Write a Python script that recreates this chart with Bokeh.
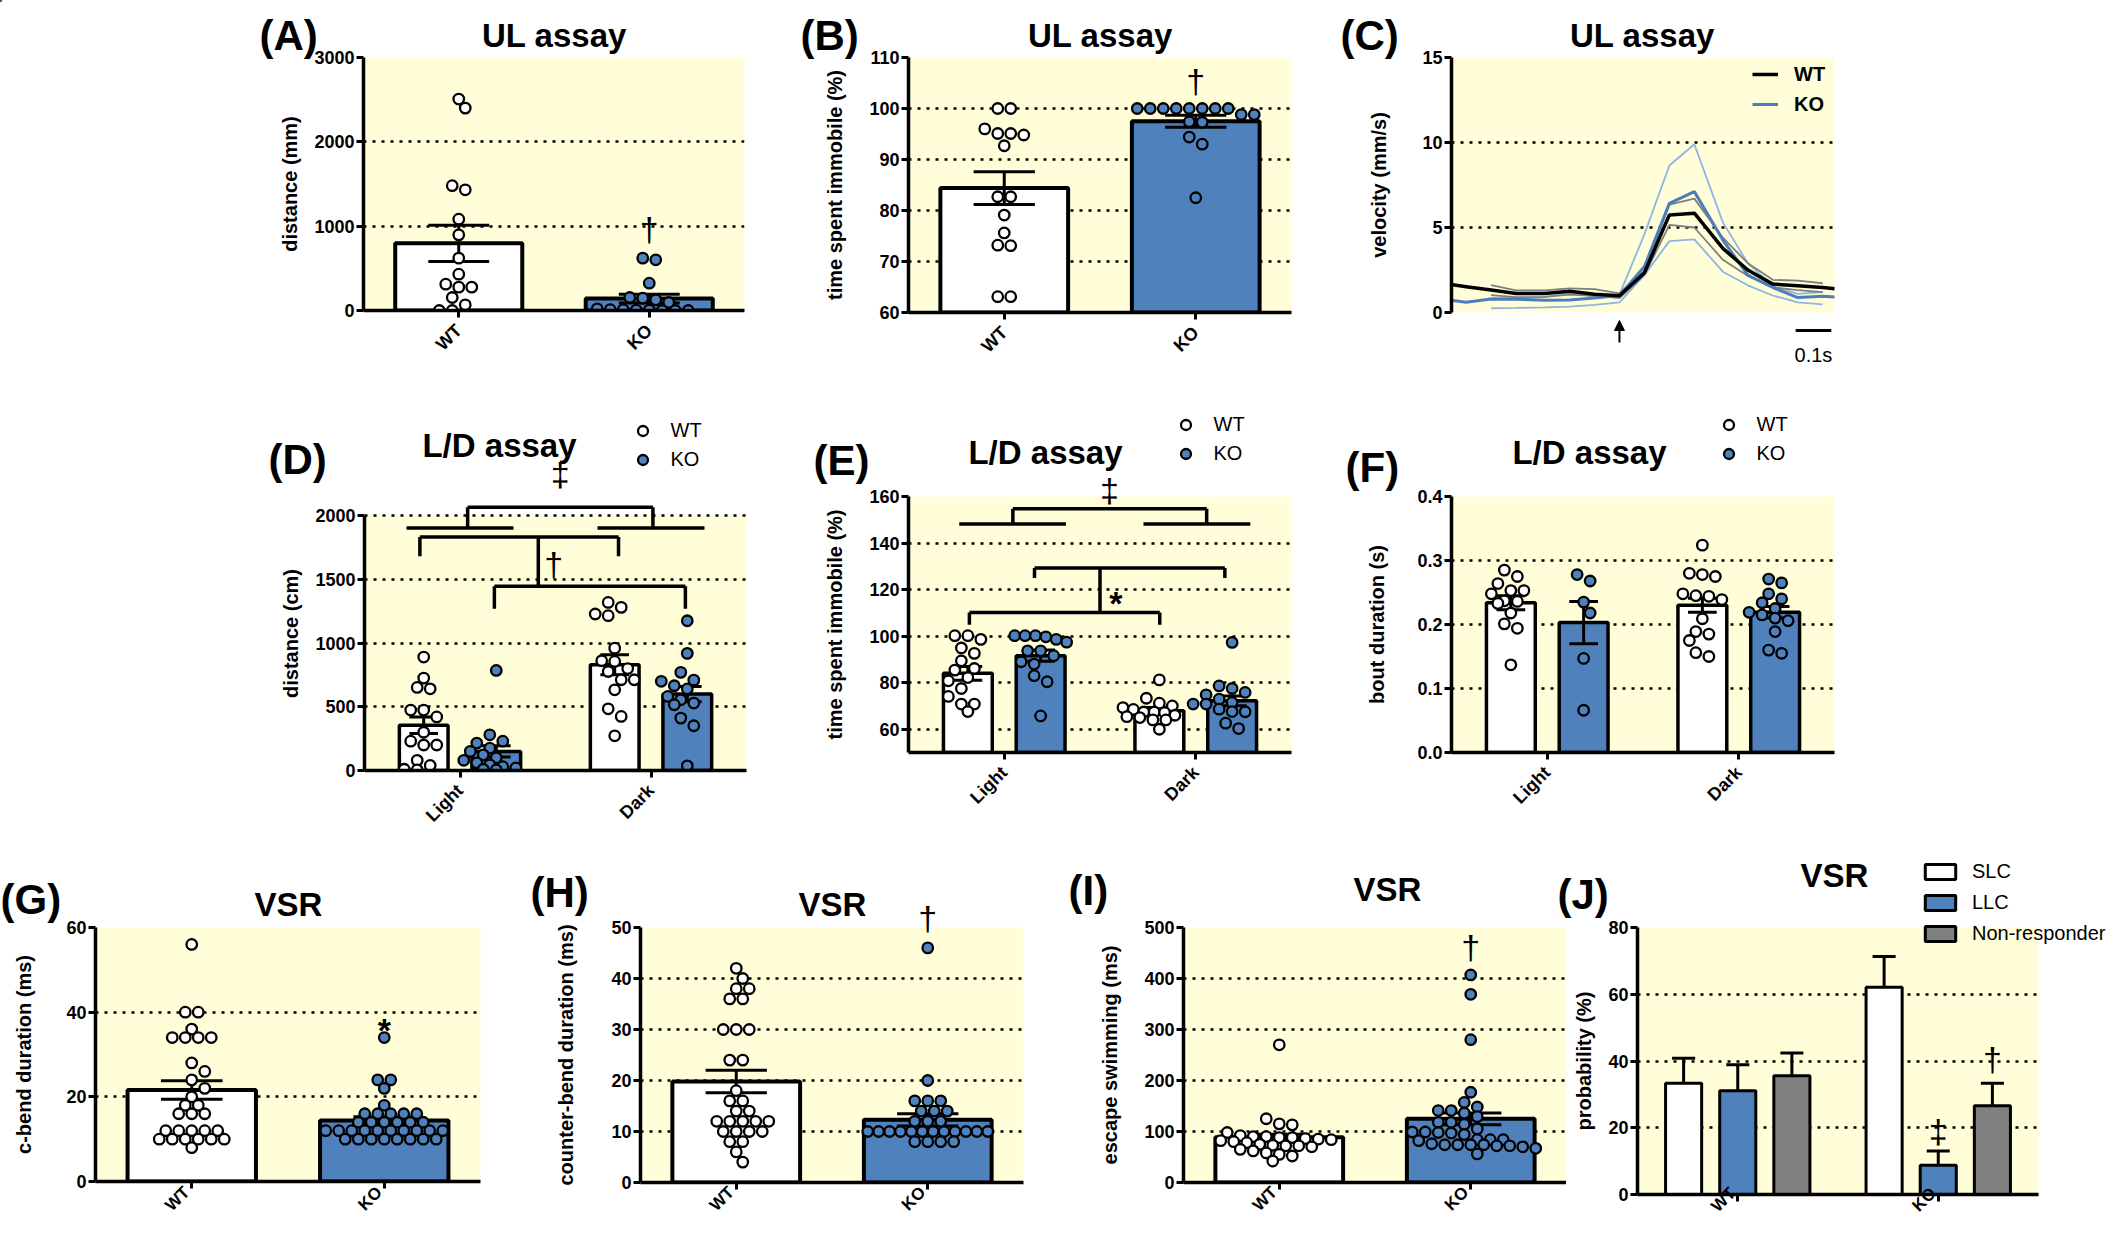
import math
from bokeh.plotting import figure
from bokeh.layouts import row, column
from bokeh.models import (Range1d, FixedTicker, Label, Legend, LegendItem, GridBox,
                          BoxAnnotation, Arrow, NormalHead, PrintfTickFormatter)
from bokeh.embed import file_html
from bokeh.resources import INLINE

# ============================ DATA ============================
genotypes = ["WT", "KO"]
phases = ["Light", "Dark"]

# (A) UL assay - distance (mm)
A_wt = [2507, 2400, 1480, 1431, 1083, 897, 621, 431, 312, 277, 277, 154, 67, 0, 0]
A_ko = [621, 601, 324, 154, 146, 126, 95, 20, 10, 10, 5, 5, 0, 0, 0]
A_mean = [796, 141]
A_sem = [215, 52]

# (B) UL assay - time spent immobile (%)
B_wt = [100, 100, 96.0, 95.1, 95.1, 94.8, 92.7, 82.7, 82.7, 79.1, 75.6, 73.2, 73.1, 63.1, 63.1]
B_ko = [100, 100, 100, 100, 100, 100, 100, 100, 98.8, 98.8, 97.4, 97.3, 94.4, 93.0, 82.5]
B_mean = [84.4, 97.5]
B_sem = [3.2, 1.2]

# (C) UL assay - velocity (mm/s), stimulus at t = 0 s
C_t = [-0.50, -0.43, -0.36, -0.29, -0.21, -0.14, -0.07, 0.00, 0.07, 0.14, 0.21,
       0.29, 0.36, 0.43, 0.50, 0.57, 0.64]
C_wt_mean = [1.72, 1.52, 1.32, 1.12, 1.12, 1.25, 1.08, 0.98, 2.34, 5.74, 5.84,
             3.77, 2.50, 1.67, 1.57, 1.47, 1.33]
C_ko_mean = [0.80, 0.60, 0.80, 0.78, 0.72, 0.74, 0.85, 1.00, 2.70, 6.42, 7.11,
             4.26, 2.20, 1.47, 0.88, 0.96, 0.86]
C_t_sem = [-0.36, -0.29, -0.21, -0.14, -0.07, 0.00, 0.07, 0.14, 0.21, 0.29, 0.36,
           0.43, 0.50, 0.57]
C_wt_hi = [1.61, 1.30, 1.30, 1.42, 1.38, 1.12, 2.45, 6.35, 6.70, 4.40, 2.90, 1.92, 1.88, 1.72]
C_wt_lo = [1.02, 0.90, 0.92, 1.05, 0.98, 0.85, 2.20, 5.15, 5.00, 3.10, 2.15, 1.48, 1.32, 1.20]
C_ko_hi = [0.85, 0.85, 0.90, 1.15, 0.95, 1.05, 4.60, 8.65, 9.90, 5.30, 2.90, 1.55, 1.10, 1.20]
C_ko_lo = [0.25, 0.27, 0.30, 0.35, 0.45, 0.60, 2.20, 4.20, 4.30, 2.40, 1.60, 1.00, 0.60, 0.48]
C_stimulus_t = 0.0
C_scalebar_t0 = 0.494
C_scalebar = 0.1  # s

# (D) L/D assay - distance (cm)
D_wt = [[890, 725, 652, 641, 474, 474, 420, 300, 230, 200, 200, 80, 40, 10, 5],
        [1319, 1280, 1228, 1215, 960, 861, 856, 800, 777, 712, 712, 633, 484, 424, 272]]
D_ko = [[785, 280, 230, 215, 175, 150, 123, 100, 80, 60, 44, 30, 20, 10, 5],
        [1175, 919, 770, 709, 700, 665, 640, 581, 555, 529, 516, 411, 351, 37]]
D_wt_mean = [355, 830]
D_wt_sem = [65, 78]
D_ko_mean = [150, 600]
D_ko_sem = [45, 60]
D_brackets = [(0.04, 1.01, 2065, 1903), (-0.21, 0.83, 1832, 1681), (0.18, 1.18, 1445, 1270)]
D_spans = [(-0.28, 0.28, 1903), (0.72, 1.28, 1903)]
D_connector = (0.41, 1445, 1832)

# (E) L/D assay - time spent immobile (%)
E_wt = [[100.2, 100.2, 98.6, 94.9, 92.6, 89.4, 86.1, 85.4, 82.2, 80.8, 77.5, 74.1, 70.8, 70.8, 67.6],
        [81.2, 73.3, 71.2, 70.0, 69.3, 68.5, 67.4, 67.4, 67.1, 66.0, 65.4, 65.0, 64.0, 64.0, 60.0]]
E_ko = [[100.2, 100.2, 100.2, 99.7, 98.6, 97.4, 93.7, 93.7, 91.6, 89.0, 88.0, 83.0, 80.4, 65.7],
        [97.3, 78.6, 77.5, 75.8, 74.8, 72.9, 71.5, 70.8, 70.8, 68.6, 67.6, 67.5, 62.6, 60.3]]
E_wt_mean = [84.0, 67.9]
E_wt_sem = [3.0, 1.4]
E_ko_mean = [91.6, 72.2]
E_ko_sem = [2.4, 2.1]
E_brackets = [(0.045, 1.057, 154.7, 148.2), (0.158, 1.152, 129.3, 125.0), (-0.182, 0.812, 110.2, 104.9)]
E_spans = [(-0.235, 0.322, 148.2), (0.727, 1.285, 148.2)]
E_connector = (0.5, 110.2, 129.3)

# (F) L/D assay - bout duration (s)
F_wt = [[0.285, 0.275, 0.264, 0.253, 0.253, 0.248, 0.237, 0.236, 0.233, 0.218, 0.201, 0.194, 0.137],
        [0.324, 0.280, 0.278, 0.275, 0.248, 0.245, 0.244, 0.239, 0.209, 0.189, 0.185, 0.175, 0.156, 0.150]]
F_ko = [[0.278, 0.268, 0.235, 0.218, 0.147, 0.066],
        [0.271, 0.265, 0.248, 0.240, 0.234, 0.225, 0.219, 0.215, 0.210, 0.206, 0.189, 0.160, 0.155]]
F_wt_mean = [0.234, 0.230]
F_wt_sem = [0.011, 0.011]
F_ko_mean = [0.203, 0.219]
F_ko_sem = [0.033, 0.009]

# (G) VSR - c-bend duration (ms)
G_wt = [56, 40, 40, 36, 34, 34, 34, 34, 28, 26, 24, 22, 20, 18, 18, 16, 16, 16,
        12, 12, 12, 12, 12, 10, 10, 10, 10, 10, 10, 8]
G_ko = [34, 24, 24, 22, 18, 16, 16, 16, 16, 16, 14, 14, 14, 14, 14, 14,
        12, 12, 12, 12, 12, 12, 12, 12, 12, 12, 10, 10, 10, 10, 10, 10, 10, 10]
G_mean = [21.6, 14.4]
G_sem = [2.2, 0.9]

# (H) VSR - counter-bend duration (ms)
H_wt = [42, 40, 38, 38, 36, 36, 30, 30, 30, 24, 24, 18, 16, 16, 14, 14,
        12, 12, 12, 12, 12, 10, 10, 10, 10, 8, 8, 6, 4]
H_ko = [46, 20, 16, 16, 16, 14, 14, 14, 12, 12, 12, 10, 10, 10, 10, 10, 10,
        10, 10, 10, 10, 10, 10, 8, 8, 8, 8]
H_mean = [19.8, 12.3]
H_sem = [2.2, 1.2]

# (I) VSR - escape swimming (ms)
I_wt = [270, 125, 115, 113, 98, 92, 90, 90, 88, 88, 86, 85, 84, 82, 80, 78, 75, 73,
        72, 72, 70, 65, 62, 58, 55, 52, 42]
I_ko = [407, 369, 280, 177, 157, 148, 141, 141, 136, 129, 118, 118, 114, 105, 99, 99,
        98, 97, 94, 84, 84, 84, 82, 76, 74, 74, 74, 74, 72, 72, 70, 67, 56]
I_mean = [88.9, 124.8]
I_sem = [5.5, 11.5]

# (J) VSR - probability (%)
J_types = ["SLC", "LLC", "Non-responder"]
J_wt_mean = [33.3, 31.1, 35.6]
J_wt_sem = [7.5, 7.8, 6.8]
J_ko_mean = [62.1, 8.8, 26.6]
J_ko_sem = [9.2, 4.2, 6.7]

# ============================ STYLE ============================
SANS = "Liberation Sans"
YELLOW = "#FFFED9"
BLUE = "#4F81BD"
NRGRAY = "#808080"
MS, MLW, DIAM = 10.5, 2.3, 13.0
ROT = math.pi / 4
TICK_PX = 18
AST_LIFT = 0.36   # asterisk glyph centre above its baseline, in em

# canvas x0,x1,y0,y1 and frame x0,x1,y0,y1 (page pixels)
GEOM = {
    "A": (8, 790, 8, 400, 371, 752, 64, 317),
    "B": (790, 1335, 8, 400, 916, 1299, 65, 320),
    "C": (1335, 2120, 8, 400, 1459, 1842, 64, 319),
    "D": (8, 790, 400, 840, 372, 754, 492, 766),
    "E": (790, 1335, 400, 840, 916, 1299, 504, 760),
    "F": (1335, 2120, 400, 840, 1459, 1842, 504, 760),
    "G": (8, 530, 840, 1225, 103, 488, 935, 1189),
    "H": (530, 1060, 840, 1225, 648, 1031, 934, 1189),
    "I": (1060, 1574, 840, 1225, 1191, 1574, 934, 1189),
    "J": (1574, 2120, 840, 1225, 1645, 2046, 923, 1190),
}
RANGES = {}


def make_fig(key, xr, yr, bg=YELLOW, xaxis=True):
    cx0, cx1, cy0, cy1, fx0, fx1, fy0, fy1 = GEOM[key]
    RANGES[key] = (xr, yr)
    kw = {} if xaxis else {"x_axis_type": None}
    p = figure(width=None, height=None,
               frame_width=fx1 - fx0, frame_height=fy1 - fy0,
               min_border_left=fx0 - cx0, min_border_right=cx1 - fx1,
               min_border_top=fy0 - cy0, min_border_bottom=cy1 - fy1,
               x_range=Range1d(*xr), y_range=Range1d(*yr),
               output_backend="svg", toolbar_location=None, tools="",
               background_fill_color=bg, border_fill_color="white",
               outline_line_color=None, **kw)
    for g in p.xgrid:
        g.visible = False
    return p


def scales(key):
    cx0, cx1, cy0, cy1, fx0, fx1, fy0, fy1 = GEOM[key]
    (x0, x1), (y0, y1) = RANGES[key]
    return (fx1 - fx0) / (x1 - x0), (fy1 - fy0) / (y1 - y0)


def page_of(key, x, y):
    """data coordinates of a panel -> page pixels"""
    cx0, cx1, cy0, cy1, fx0, fx1, fy0, fy1 = GEOM[key]
    (x0, x1), (y0, y1) = RANGES[key]
    return (fx0 + (x - x0) / (x1 - x0) * (fx1 - fx0),
            fy1 - (y - y0) / (y1 - y0) * (fy1 - fy0))


def add_sym(p, s, x, y, size=34, style="normal", baseline="middle"):
    p.add_layout(Label(x=x, y=y, text=s, text_font=SANS, text_font_size=f"{size}px",
                       text_font_style=style, text_align="center", text_baseline=baseline,
                       text_color="black"))


def common_axis(ax, size=TICK_PX, standoff=2):
    ax.axis_line_color = "black"
    ax.axis_line_width = 3.5
    ax.major_tick_line_color = "black"
    ax.major_tick_line_width = 3
    ax.major_tick_out = 7
    ax.major_tick_in = 0
    ax.minor_tick_line_color = None
    ax.major_label_text_font = SANS
    ax.major_label_text_font_style = "bold"
    ax.major_label_text_font_size = f"{size}px"
    ax.major_label_text_color = "black"
    ax.major_label_standoff = standoff


def style_y(p, ticks, label, standoff, grid_ticks=None, bounds=None, fmt=None):
    ax = p.yaxis[0]
    ax.ticker = FixedTicker(ticks=ticks)
    if fmt:
        ax.formatter = PrintfTickFormatter(format=fmt)
    common_axis(ax)
    ax.axis_label = label
    ax.axis_label_text_font = SANS
    ax.axis_label_text_font_style = "bold"
    ax.axis_label_text_font_size = "20px"
    ax.axis_label_text_color = "black"
    ax.axis_label_standoff = standoff
    if bounds:
        ax.bounds = bounds
    g = p.ygrid[0]
    g.ticker = FixedTicker(ticks=ticks[1:] if grid_ticks is None else grid_ticks)
    g.grid_line_color = "black"
    g.grid_line_width = 2.5
    g.grid_line_dash = "3 6"


ROW3_TICKLABELS = []   # (key, tick position, text) drawn on the overlay


def style_x(p, key, labels, outside=False):
    ax = p.xaxis[0]
    ax.ticker = FixedTicker(ticks=[0, 1])
    common_axis(ax, standoff=10)
    if not outside:
        ax.major_label_overrides = {0: labels[0], 1: labels[1]}
        ax.major_label_orientation = ROT
    else:
        ax.major_label_overrides = {0: "", 1: ""}
        for i, s in enumerate(labels):
            ROW3_TICKLABELS.append((key, i, s))


def swarm(vals, ypx, xpx, diam=DIAM, maxw=120.0):
    """Prism-like column scatter: rows of near-equal values, centred and staggered."""
    order = sorted(range(len(vals)), key=lambda i: -vals[i])
    bins = []
    for i in order:
        y = vals[i] * ypx
        if bins and bins[-1][0] - y <= 0.6 * diam:
            bins[-1][1].append(i)
        else:
            bins.append([y, [i]])
    offs = [0.0] * len(vals)
    placed = []
    for _, idx in bins:
        n = len(idx)
        step = diam if n <= 1 else min(diam, maxw / (n - 1))
        base = [(k - (n - 1) / 2) * step for k in range(n)]
        ys = [vals[i] * ypx for i in idx]
        near = [(px, py) for px, py in placed if abs(py - min(ys)) < diam or abs(py - max(ys)) < diam]
        best, best_d = 0.0, -1.0
        for sh in [0.0, step / 2, -step / 2, step, -step]:
            d = min([math.hypot(b + sh - px, y - py) for b, y in zip(base, ys) for px, py in near] or [1e9])
            if d >= 0.85 * diam:
                best = sh
                break
            if d > best_d:
                best, best_d = sh, d
        for b, y, i in zip(base, ys, idx):
            offs[i] = (b + best) / xpx
            placed.append((b + best, y))
    return offs


def dots(p, key, centers, sets, color, maxw=120.0):
    xpx, ypx = scales(key)
    xs, ys = [], []
    for xc, vals in zip(centers, sets):
        offs = swarm(vals, ypx, xpx, maxw=maxw)
        xs += [xc + o for o in offs]
        ys += list(vals)
    return p.scatter(xs, ys, size=MS, fill_color=color, line_color="black", line_width=MLW)


def errs(p, xs, means, sems, cap, both=True, lw=3):
    hi = [m + s for m, s in zip(means, sems)]
    lo = [m - s for m, s in zip(means, sems)] if both else list(means)
    p.segment(x0=xs, y0=lo, x1=xs, y1=hi, line_color="black", line_width=lw)
    p.segment(x0=[x - cap / 2 for x in xs], y0=hi, x1=[x + cap / 2 for x in xs], y1=hi,
              line_color="black", line_width=lw)
    if both:
        p.segment(x0=[x - cap / 2 for x in xs], y0=lo, x1=[x + cap / 2 for x in xs], y1=lo,
                  line_color="black", line_width=lw)


def brackets(p, specs, spans, connector, lw=3.5):
    x0s, y0s, x1s, y1s = [], [], [], []
    for xl, xr, yt, ye in specs:
        x0s += [xl, xr, xl]
        y0s += [ye, ye, yt]
        x1s += [xl, xr, xr]
        y1s += [yt, yt, yt]
    for xl, xr, y in spans:
        x0s.append(xl); y0s.append(y); x1s.append(xr); y1s.append(y)
    xc, ya, yb = connector
    x0s.append(xc); y0s.append(ya); x1s.append(xc); y1s.append(yb)
    p.segment(x0=x0s, y0=y0s, x1=x1s, y1=y1s, line_color="black", line_width=lw)


def two_bar(key, yr, yticks, ylabel, standoff, wt, ko, means, sems, outside=False):
    p = make_fig(key, (-0.5, 1.5), yr)
    style_y(p, yticks, ylabel, standoff)
    style_x(p, key, genotypes, outside)
    p.vbar(x=[0, 1], top=means, bottom=yr[0], width=0.667, fill_color=["white", BLUE],
           line_color="black", line_width=4)
    errs(p, [0, 1], means, sems, 0.32)
    dots(p, key, [0], [wt], "white")
    dots(p, key, [1], [ko], BLUE)
    return p


def four_bar(key, yr, p, wt, ko, wm, ws, km, ks):
    off, w = 0.19, 0.255
    xw = [0 - off, 1 - off]
    xk = [0 + off, 1 + off]
    p.vbar(x=xw, top=wm, bottom=yr[0], width=w, fill_color="white", line_color="black", line_width=3.5)
    p.vbar(x=xk, top=km, bottom=yr[0], width=w, fill_color=BLUE, line_color="black", line_width=3.5)
    errs(p, xw, wm, ws, 0.15)
    errs(p, xk, km, ks, 0.15)
    dots(p, key, xw, wt, "white", maxw=52.0)
    dots(p, key, xk, ko, BLUE, maxw=52.0)


# ============================ PANELS ============================
pA = two_bar("A", (0, 3000), [0, 1000, 2000, 3000], "distance (mm)", 10, A_wt, A_ko, A_mean, A_sem)
add_sym(pA, "\u2020", 1, 966)

pB = two_bar("B", (60, 110), [60, 70, 80, 90, 100, 110], "time spent immobile (%)", 20,
             B_wt, B_ko, B_mean, B_sem)
add_sym(pB, "\u2020", 1, 105.3)

pC = make_fig("C", (-0.471, 0.603), (0, 15), xaxis=False)
style_y(pC, [0, 5, 10, 15], "velocity (mm/s)", 29)
pC.line(C_t_sem, C_ko_hi, line_color="#8DB4E2", line_width=1.8)
pC.line(C_t_sem, C_ko_lo, line_color="#8DB4E2", line_width=1.8)
pC.line(C_t_sem, C_wt_hi, line_color="#7F7F7F", line_width=1.8)
pC.line(C_t_sem, C_wt_lo, line_color="#7F7F7F", line_width=1.8)
rC_ko = pC.line(C_t, C_ko_mean, line_color="#4A7EBB", line_width=3)
rC_wt = pC.line(C_t, C_wt_mean, line_color="black", line_width=3.5)
legC = Legend(items=[LegendItem(label="WT", renderers=[rC_wt]), LegendItem(label="KO", renderers=[rC_ko])],
              location=(301, 196), orientation="vertical", glyph_width=26, glyph_height=24,
              spacing=6, label_standoff=16, padding=0, margin=0,
              border_line_color=None, background_fill_alpha=0,
              label_text_font=SANS, label_text_font_size="20px", label_text_font_style="bold",
              label_text_color="black")
pC.add_layout(legC)

pD = make_fig("D", (-0.5, 1.5), (0, 2150), bg="white")
pD.add_layout(BoxAnnotation(bottom=0, top=2000, fill_color=YELLOW, fill_alpha=1.0,
                            line_color=None, level="image"))
style_y(pD, [0, 500, 1000, 1500, 2000], "distance (cm)", 10, bounds=(0, 2000))
style_x(pD, "D", phases)
four_bar("D", (0, 2150), pD, D_wt, D_ko, D_wt_mean, D_wt_sem, D_ko_mean, D_ko_sem)
brackets(pD, D_brackets, D_spans, D_connector)
add_sym(pD, "\u2020", 0.49, 1622)

pE = make_fig("E", (-0.5, 1.5), (50, 160))
style_y(pE, [60, 80, 100, 120, 140, 160], "time spent immobile (%)", 20,
        grid_ticks=[60, 80, 100, 120, 140, 160])
style_x(pE, "E", phases)
four_bar("E", (50, 160), pE, E_wt, E_ko, E_wt_mean, E_wt_sem, E_ko_mean, E_ko_sem)
brackets(pE, E_brackets, E_spans, E_connector)
_, ypxE = scales("E")
add_sym(pE, "*", 0.583, 119.5 - AST_LIFT * 34 / ypxE, size=34, style="bold", baseline="alphabetic")

pF = make_fig("F", (-0.5, 1.5), (0, 0.4))
style_y(pF, [0.0, 0.1, 0.2, 0.3, 0.4], "bout duration (s)", 26, fmt="%.1f")
style_x(pF, "F", phases)
four_bar("F", (0, 0.4), pF, F_wt, F_ko, F_wt_mean, F_wt_sem, F_ko_mean, F_ko_sem)

pG = two_bar("G", (0, 60), [0, 20, 40, 60], "c-bend duration (ms)", 28, G_wt, G_ko, G_mean, G_sem,
             outside=True)
_, ypxG = scales("G")
add_sym(pG, "*", 1, 38.6 - AST_LIFT * 34 / ypxG, size=34, style="bold", baseline="alphabetic")

pH = two_bar("H", (0, 50), [0, 10, 20, 30, 40, 50], "counter-bend duration (ms)", 31,
             H_wt, H_ko, H_mean, H_sem, outside=True)

pI = two_bar("I", (0, 500), [0, 100, 200, 300, 400, 500], "escape swimming (ms)", 20,
             I_wt, I_ko, I_mean, I_sem, outside=True)
add_sym(pI, "\u2020", 1, 461)

pJ = make_fig("J", (-0.5, 1.5), (0, 80))
style_y(pJ, [0, 20, 40, 60, 80], "probability (%)", 10)
style_x(pJ, "J", genotypes, outside=True)
J_off = [-0.27, 0.0, 0.27]
J_fill = ["white", BLUE, NRGRAY]
for k in range(3):
    xs = [0 + J_off[k], 1 + J_off[k]]
    tops = [J_wt_mean[k], J_ko_mean[k]]
    errs(pJ, xs, tops, [J_wt_sem[k], J_ko_sem[k]], 0.115, both=False)
    pJ.vbar(x=xs, top=tops, bottom=0, width=0.18, fill_color=J_fill[k],
            line_color="black", line_width=3)
add_sym(pJ, "\u2021", 1.0, 18.9)
add_sym(pJ, "\u2020", 1.27, 40.5)

# ============================ TEXT OVERLAY ============================
# a transparent figure over the whole page, in page-pixel coordinates
ov = figure(width=None, height=None, frame_width=2112, frame_height=1217,
            min_border_left=0, min_border_right=0, min_border_top=0, min_border_bottom=0,
            x_range=Range1d(8, 2120), y_range=Range1d(1225, 8),
            x_axis_type=None, y_axis_type=None, output_backend="svg",
            toolbar_location=None, tools="",
            background_fill_color=None, border_fill_color=None, outline_line_color=None)


def ov_text(s, px, py, size, style="bold", align="left", baseline="alphabetic", angle=0.0):
    ov.add_layout(Label(x=px, y=py, text=s, text_font=SANS, text_font_size=f"{size}px",
                        text_font_style=style, text_align=align, text_baseline=baseline,
                        text_color="black", angle=angle))


# panel letters and titles
panel_letters = [("(A)", 267, 43), ("(B)", 808, 43), ("(C)", 1348, 43),
                 ("(D)", 276, 467), ("(E)", 821, 468), ("(F)", 1353, 475),
                 ("(G)", 8, 907), ("(H)", 538, 900), ("(I)", 1076, 898), ("(J)", 1565, 902)]
for s, px, py in panel_letters:
    ov_text(s, px, py, 42)
panel_titles = [("UL assay", 562, 43, 33), ("UL assay", 1108, 43, 33), ("UL assay", 1650, 43, 33),
                ("L/D assay", 507, 453, 33), ("L/D assay", 1053, 460, 33), ("L/D assay", 1597, 460, 33),
                ("VSR", 296, 912, 33), ("VSR", 840, 912, 33), ("VSR", 1395, 897, 33), ("VSR", 1842, 883, 33)]
for s, px, py, sz in panel_titles:
    ov_text(s, px, py, sz, align="center")

# significance symbols that sit on a frame edge
for key, s, x, y in [("D", "\u2021", 0.525, 2230), ("E", "\u2021", 0.55, 162.9), ("H", "\u2020", 1, 51.7)]:
    px, py = page_of(key, x, y)
    ov_text(s, px, py, 34, style="normal", align="center", baseline="middle")

# row-3 category labels (below the frames, close to the page bottom like the original)
for key, i, s in ROW3_TICKLABELS:
    px, py = page_of(key, i, RANGES[key][1][0])
    ov_text(s, px - 5, py + 8, 17, align="right", baseline="middle", angle=ROT)

# (C) stimulus arrow and time scale bar
ax_, ay_ = page_of("C", C_stimulus_t, 0)
ov.add_layout(Arrow(end=NormalHead(size=10, fill_color="black", line_color="black", line_width=1),
                    x_start=ax_, y_start=350, x_end=ax_, y_end=328, line_color="black", line_width=2))
sx0, _ = page_of("C", C_scalebar_t0, 0)
sx1, _ = page_of("C", C_scalebar_t0 + C_scalebar, 0)
ov.add_layout(Arrow(start=None, end=None, x_start=sx0, y_start=338, x_end=sx1, y_end=338,
                    line_color="black", line_width=3))
ov_text("0.1s", (sx0 + sx1) / 2, 362, 20, style="normal", align="center")

# legends (proxy glyphs kept outside the visible range)
wt_proxy = ov.scatter([-100], [-100], size=MS, fill_color="white", line_color="black", line_width=MLW)
ko_proxy = ov.scatter([-100], [-100], size=MS, fill_color=BLUE, line_color="black", line_width=MLW)
for loc in [(629.5, 745.5), (1172.5, 751.5), (1715.5, 751.5)]:
    ov.add_layout(Legend(items=[LegendItem(label="WT", renderers=[wt_proxy]),
                                LegendItem(label="KO", renderers=[ko_proxy])],
                         location=loc, orientation="vertical", glyph_width=25, glyph_height=25,
                         spacing=4, label_standoff=16, padding=0, margin=0,
                         border_line_color=None, background_fill_alpha=0,
                         label_text_font=SANS, label_text_font_size="20px",
                         label_text_font_style="normal", label_text_color="black"))
J_items = []
for k in range(3):
    r = ov.vbar(x=[-100], top=[-100], bottom=-90, width=1, fill_color=J_fill[k],
                line_color="black", line_width=3)
    J_items.append(LegendItem(label=J_types[k], renderers=[r]))
ov.add_layout(Legend(items=J_items, location=(1921, 272), orientation="vertical", glyph_width=38,
                     glyph_height=19, spacing=8, label_standoff=13, padding=0, margin=0,
                     border_line_color=None, background_fill_alpha=0,
                     label_text_font=SANS, label_text_font_size="20px",
                     label_text_font_style="normal", label_text_color="black"))

plots = column(row(pA, pB, pC), row(pD, pE, pF), row(pG, pH, pI, pJ))
page = GridBox(children=[(plots, 0, 0), (ov, 0, 0)])
open("out.html", "w").write(file_html(page, INLINE))
